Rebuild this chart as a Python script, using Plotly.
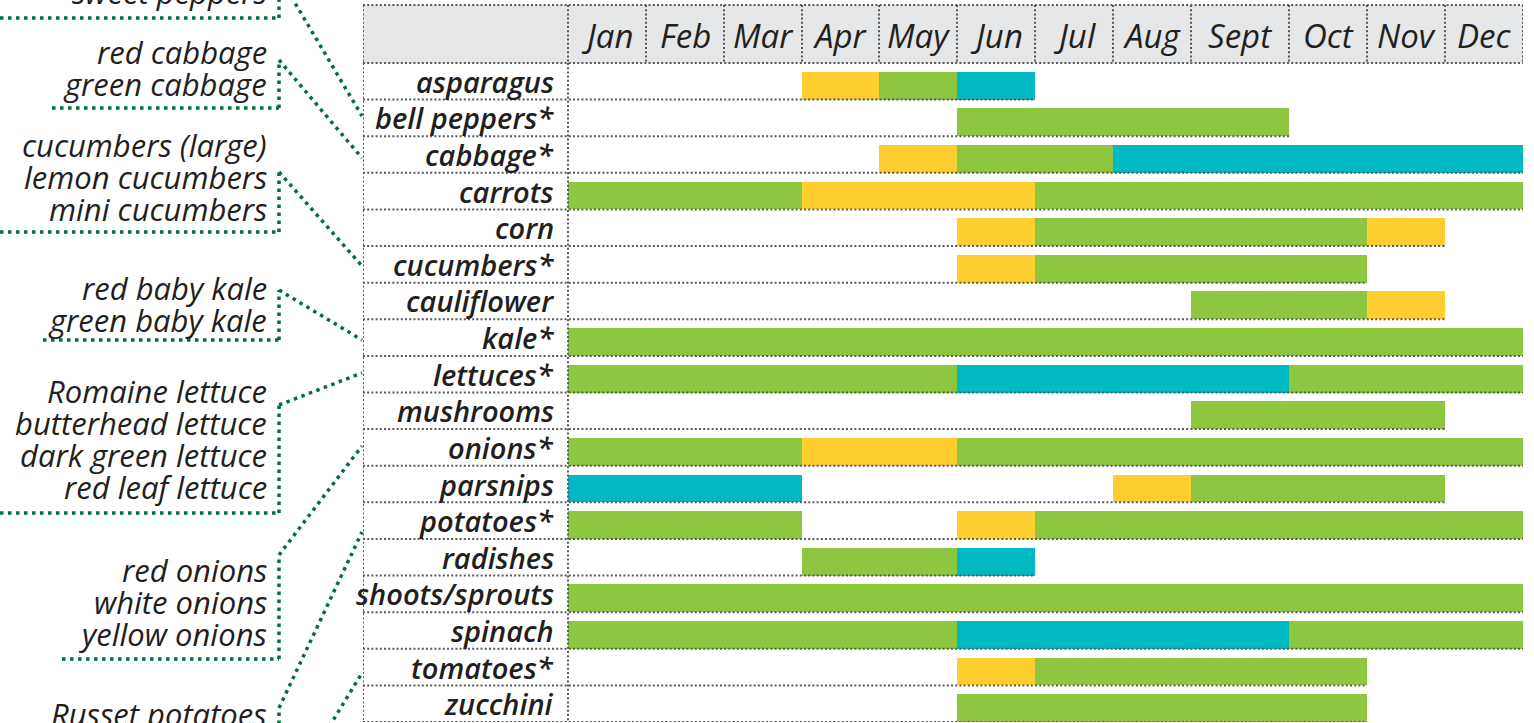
import plotly.graph_objects as go

# ---------------- data ----------------
MONTHS = ["Jan", "Feb", "Mar", "Apr", "May", "Jun", "Jul", "Aug", "Sept", "Oct", "Nov", "Dec"]
CROPS = ["asparagus", "bell peppers*", "cabbage*", "carrots", "corn", "cucumbers*",
         "cauliflower", "kale*", "lettuces*", "mushrooms", "onions*", "parsnips",
         "potatoes*", "radishes", "shoots/sprouts", "spinach", "tomatoes*", "zucchini"]

# (crop, first month, last month)
GREEN_SPANS = [
    ("asparagus", "May", "May"), ("bell peppers*", "Jun", "Sept"), ("cabbage*", "Jun", "Jul"),
    ("carrots", "Jan", "Mar"), ("carrots", "Jul", "Dec"), ("corn", "Jul", "Oct"),
    ("cucumbers*", "Jul", "Oct"), ("cauliflower", "Sept", "Oct"), ("kale*", "Jan", "Dec"),
    ("lettuces*", "Jan", "May"), ("lettuces*", "Oct", "Dec"), ("mushrooms", "Sept", "Nov"),
    ("onions*", "Jan", "Mar"), ("onions*", "Jun", "Dec"), ("parsnips", "Sept", "Nov"),
    ("potatoes*", "Jan", "Mar"), ("potatoes*", "Jul", "Dec"), ("radishes", "Apr", "May"),
    ("shoots/sprouts", "Jan", "Dec"), ("spinach", "Jan", "May"), ("spinach", "Oct", "Dec"),
    ("tomatoes*", "Jul", "Oct"), ("zucchini", "Jun", "Oct"),
]
YELLOW_SPANS = [
    ("asparagus", "Apr", "Apr"), ("cabbage*", "May", "May"), ("carrots", "Apr", "Jun"),
    ("corn", "Jun", "Jun"), ("corn", "Nov", "Nov"), ("cucumbers*", "Jun", "Jun"),
    ("cauliflower", "Nov", "Nov"), ("onions*", "Apr", "May"), ("parsnips", "Aug", "Aug"),
    ("potatoes*", "Jun", "Jun"), ("tomatoes*", "Jun", "Jun"),
]
TEAL_SPANS = [
    ("asparagus", "Jun", "Jun"), ("cabbage*", "Aug", "Dec"), ("lettuces*", "Jun", "Sept"),
    ("parsnips", "Jan", "Mar"), ("radishes", "Jun", "Jun"), ("spinach", "Jun", "Sept"),
]

SIDE_NOTES = [
    ["sweet peppers"],
    ["red cabbage", "green cabbage"],
    ["cucumbers (large)", "lemon cucumbers", "mini cucumbers"],
    ["red baby kale", "green baby kale"],
    ["Romaine lettuce", "butterhead lettuce", "dark green lettuce", "red leaf lettuce"],
    ["red onions", "white onions", "yellow onions"],
    ["Russet potatoes"],
]

# ---------------- layout / style ----------------
W, H = 1534, 723
COL_WIDTHS = [78, 78, 78, 77, 78, 78, 78, 78, 98, 78, 78, 78]   # px per month column
LABEL_COL = 205                                                 # px width of crop-name column
TABLE_LEFT, TABLE_RIGHT = 363, 1523
HEADER_TOP, BODY_TOP, BODY_BOTTOM = 5, 63, 722
BAR_FRACTION = 0.76

GREEN, YELLOW, TEAL = "#8dc63f", "#fecd30", "#00b9c2"
GRID = "#58595b"
HEADER_FILL = "#e6e7e8"
NOTE_GREEN = "#00703c"
INK = "#231f20"
FONT = "Open Sans"

NOTE_FIRST_Y = [-8, 52, 145, 288, 391, 570, 714]
NOTE_LINE_STEP = 32
NOTE_RIGHT = 269
CONNECTORS = [
    [(0, 18), (279, 18), (279, -30)], [(279, -24), (362, 116)],
    [(52, 108), (279, 108), (279, 60)], [(279, 60), (362, 158)],
    [(0, 232), (279, 232), (279, 172)], [(279, 172), (362, 266)],
    [(43, 340), (279, 340), (279, 290)], [(279, 290), (362, 340)],
    [(0, 513), (279, 513), (279, 405)], [(279, 405), (362, 373)],
    [(62, 659), (279, 659), (279, 555)], [(279, 555), (362, 446)],
    [(279, 740), (279, 708)], [(279, 708), (362, 532)],
    [(321, 740), (362, 673)],
]

edges = [0]
for w in COL_WIDTHS:
    edges.append(edges[-1] + w)
month_pos = {m: i for i, m in enumerate(MONTHS)}
row_of = {c: i for i, c in enumerate(CROPS)}


def px(x):
    return x / W


def py(y):
    return 1 - y / H


def bar_trace(spans, color, name):
    ys, bases, lens = [], [], []
    for crop, m0, m1 in spans:
        a = edges[month_pos[m0]]
        b = edges[month_pos[m1] + 1]
        ys.append(row_of[crop])
        bases.append(a)
        lens.append(b - a)
    return go.Bar(orientation="h", y=ys, base=bases, x=lens, width=BAR_FRACTION,
                  offset=1 - BAR_FRACTION, marker=dict(color=color, line=dict(width=0)),
                  name=name, showlegend=False, hoverinfo="skip")


fig = go.Figure()
fig.add_trace(bar_trace(GREEN_SPANS, GREEN, "green"))
fig.add_trace(bar_trace(YELLOW_SPANS, YELLOW, "yellow"))
fig.add_trace(bar_trace(TEAL_SPANS, TEAL, "teal"))

shapes = []
grid_line = dict(color=GRID, width=2, dash="2px,2.2px")

# header background
shapes.append(dict(type="rect", xref="x", yref="paper", x0=-LABEL_COL, x1=edges[-1],
                   y0=py(BODY_TOP), y1=py(HEADER_TOP), fillcolor=HEADER_FILL,
                   line=dict(width=0), layer="below"))
# header horizontal lines
for yy in (HEADER_TOP, BODY_TOP):
    shapes.append(dict(type="line", xref="x", yref="paper", x0=-LABEL_COL, x1=edges[-1],
                       y0=py(yy), y1=py(yy), line=grid_line, layer="above"))
# header vertical lines
for xx in [-LABEL_COL] + edges:
    shapes.append(dict(type="line", xref="x", yref="paper", x0=xx, x1=xx,
                       y0=py(HEADER_TOP), y1=py(BODY_TOP), line=grid_line, layer="above"))
# body vertical lines
for xx in (-LABEL_COL, 0):
    shapes.append(dict(type="line", xref="x", yref="y", x0=xx, x1=xx,
                       y0=0, y1=len(CROPS), line=grid_line, layer="above"))
# row underlines, reaching to the end of each row's bars
row_end = {c: 0 for c in CROPS}
for spans in (GREEN_SPANS, YELLOW_SPANS, TEAL_SPANS):
    for crop, m0, m1 in spans:
        row_end[crop] = max(row_end[crop], edges[month_pos[m1] + 1])
for c in CROPS:
    i = row_of[c]
    shapes.append(dict(type="line", xref="x", yref="y", x0=-LABEL_COL, x1=max(row_end[c], 0),
                       y0=i + 1, y1=i + 1, line=grid_line, layer="above"))

# side-note connectors
for poly in CONNECTORS:
    for (x0, y0), (x1, y1) in zip(poly[:-1], poly[1:]):
        shapes.append(dict(type="line", xref="paper", yref="paper",
                           x0=px(x0), y0=py(y0), x1=px(x1), y1=py(y1),
                           line=dict(color=NOTE_GREEN, width=3.5, dash="3.5px,4.5px"),
                           layer="above"))

annotations = []
# month headers
for i, m in enumerate(MONTHS):
    annotations.append(dict(x=(edges[i] + edges[i + 1]) / 2, y=py(35), xref="x", yref="paper",
                            text=m, showarrow=False, xanchor="center", yanchor="middle",
                            font=dict(family=FONT, size=33, color=INK, style="italic")))
# crop labels
for c in CROPS:
    annotations.append(dict(x=-12, y=row_of[c] + 0.5, xref="x", yref="y", text=c,
                            showarrow=False, xanchor="right", yanchor="middle",
                            font=dict(family=FONT, size=29, color=INK, style="italic",
                                      weight=600)))
# side notes
for lines, y0 in zip(SIDE_NOTES, NOTE_FIRST_Y):
    for k, t in enumerate(lines):
        annotations.append(dict(x=px(NOTE_RIGHT), y=py(y0 + k * NOTE_LINE_STEP),
                                xref="paper", yref="paper", text=t, showarrow=False,
                                xanchor="right", yanchor="middle",
                                font=dict(family=FONT, size=31, color=INK, style="italic")))

fig.update_layout(
    width=W, height=H, margin=dict(l=0, r=0, t=0, b=0),
    paper_bgcolor="white", plot_bgcolor="rgba(0,0,0,0)",
    barmode="overlay", bargap=0,
    xaxis=dict(domain=[px(TABLE_LEFT), px(TABLE_RIGHT)], range=[-LABEL_COL, edges[-1]],
               showgrid=False, zeroline=False, showticklabels=False, ticks="", fixedrange=True),
    yaxis=dict(domain=[py(BODY_BOTTOM), py(BODY_TOP)], range=[len(CROPS), 0],
               showgrid=False, zeroline=False, showticklabels=False, ticks="", fixedrange=True),
    shapes=shapes, annotations=annotations,
)

fig.write_html("out.html", config={"displayModeBar": False},
               post_script="document.body.style.margin='0';document.body.style.overflow='hidden';")
